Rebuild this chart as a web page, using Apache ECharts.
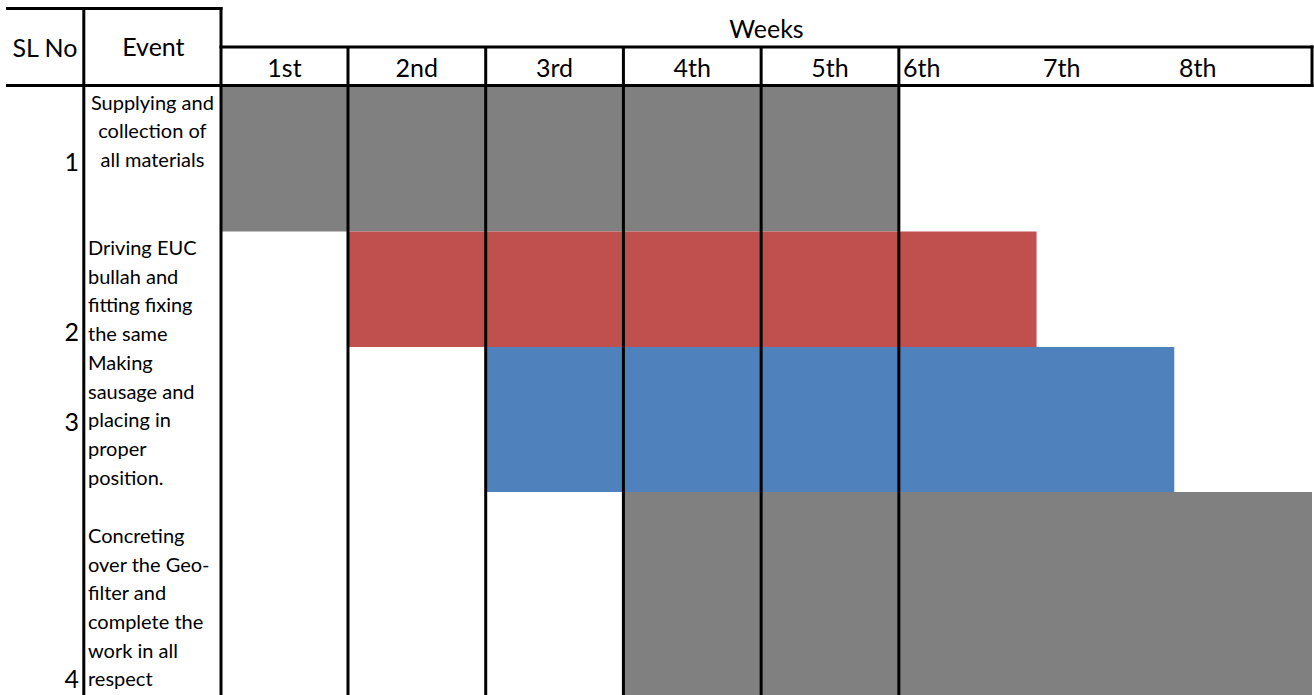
<!DOCTYPE html>
<html><head><meta charset="utf-8">
<script src="https://cdn.jsdelivr.net/npm/echarts@6/dist/echarts.min.js"></script>
<style>html,body{margin:0;padding:0;background:#fff}#c{width:1314px;height:695px}</style>
</head><body><div id="c"></div>
<script>
// ---------- data ----------
const titleText = 'Weeks';
const colHeaders = ['SL No', 'Event'];
const slNo = ['1', '2', '3', '4'];
const events = [
  'Supplying and\ncollection of\nall materials',
  'Driving EUC\nbullah and\nfitting fixing\nthe same',
  'Making\nsausage and\nplacing in\nproper\nposition.',
  'Concreting\nover the Geo-\nfilter and\ncomplete the\nwork in all\nrespect'
];
const weekLabels = ['1st', '2nd', '3rd', '4th', '5th', '6th', '7th', '8th'];
const startWeek = [1, 2, 3, 4];
const endWeek = [5, 6, 7, 8];

// ---------- layout / style ----------
const barColors = ['#808080', '#C0504D', '#4F81BD', '#808080'];
const rowHeights = [146.5, 115.5, 145, 203];
const rowTops = rowHeights.reduce((a, h, i) => { a.push(i ? a[i - 1] + rowHeights[i - 1] : 0); return a; }, []);
const totalH = rowHeights.reduce((a, b) => a + b, 0);
const FONT = 'Lato';
const bodySize = 20, headSize = 25, lineH = 28.7;
const eventTextTop = [87.4, 232.6, 347.6, 520.6];
const slNoY = [160.5, 330.5, 421, 678];
const firstWeekShown = 0.9221; // first week column is narrower in the sheet
const xMin = 1 - firstWeekShown;

const chart = echarts.init(document.getElementById('c'), null, { renderer: 'svg' });

const barData = startWeek.map((s, i) => [s - 1, endWeek[i], i]);

chart.setOption({
  animation: false,
  backgroundColor: '#fff',
  grid: { left: 221, right: 2, top: 85, bottom: 0 },
  xAxis: { type: 'value', min: xMin, max: weekLabels.length, show: false },
  yAxis: { type: 'value', inverse: true, min: 0, max: totalH, show: false },
  series: [{
    type: 'custom',
    data: barData,
    encode: { x: [0, 1] },
    renderItem: function (params, api) {
      const i = api.value(2);
      const p0 = api.coord([api.value(0), rowTops[i]]);
      const p1 = api.coord([api.value(1), rowTops[i] + rowHeights[i]]);
      const cs = params.coordSys;
      const r = echarts.graphic.clipRectByRect(
        { x: p0[0], y: p0[1], width: p1[0] - p0[0], height: p1[1] - p0[1] },
        { x: cs.x, y: cs.y, width: cs.width, height: cs.height });
      return r && { type: 'rect', shape: r, style: { fill: barColors[i] } };
    }
  }]
});

const px = v => chart.convertToPixel({ gridIndex: 0 }, [v, 0])[0];
const xs = []; for (let w = 0; w <= weekLabels.length; w++) xs.push(w === 0 ? px(xMin) : px(w));
const left = xs[0], right = xs[xs.length - 1];
const yTop = 8.5, yMid = 47, yHead = 85.5, yBot = 695;
const colSplit = 83.8, tableLeft = 6;

const els = [];
function line(x1, y1, x2, y2) {
  els.push({ type: 'line', z: 10, shape: { x1, y1, x2, y2 }, style: { stroke: '#000', lineWidth: 3 } });
}
function text(t, x, y, size, align, vAlign) {
  els.push({ type: 'text', z: 11, style: {
    text: t, x, y, fontSize: size, fontFamily: FONT, fill: '#000',
    align: align, verticalAlign: vAlign, textAlign: align, textVerticalAlign: vAlign, lineHeight: lineH
  } });
}
// horizontal lines
line(tableLeft, yTop, left + 1.5, yTop);
line(left - 1.5, yMid, right + 1.5, yMid);
line(tableLeft, yHead, right + 1.5, yHead);
// vertical lines
line(colSplit, yTop - 1.5, colSplit, yBot);
line(left, yTop - 1.5, left, yBot);
for (let w = 1; w <= 5; w++) line(xs[w], yMid, xs[w], yBot);
line(right, yMid - 1.5, right, yHead + 1.5);

// header texts
text(colHeaders[0], (tableLeft + colSplit) / 2, 47, headSize, 'center', 'middle');
text(colHeaders[1], (colSplit + left) / 2 + 1, 46, headSize, 'center', 'middle');
text(titleText, (left + right) / 2, 28, headSize, 'center', 'middle');
for (let w = 0; w < 5; w++) text(weekLabels[w], (xs[w] + xs[w + 1]) / 2, 67, headSize, 'center', 'middle');
const lateLabelX = [903, 1043, 1179];
for (let w = 5; w < 8; w++) text(weekLabels[w], lateLabelX[w - 5], 67, headSize, 'left', 'middle');

// rows
events.forEach((e, i) => {
  if (i === 0) text(e, (colSplit + left) / 2, eventTextTop[i], bodySize, 'center', 'top');
  else text(e, 88, eventTextTop[i], bodySize, 'left', 'top');
  text(slNo[i], 79, slNoY[i], headSize, 'right', 'middle');
});

chart.setOption({ graphic: { elements: els } });
</script>
</body></html>
